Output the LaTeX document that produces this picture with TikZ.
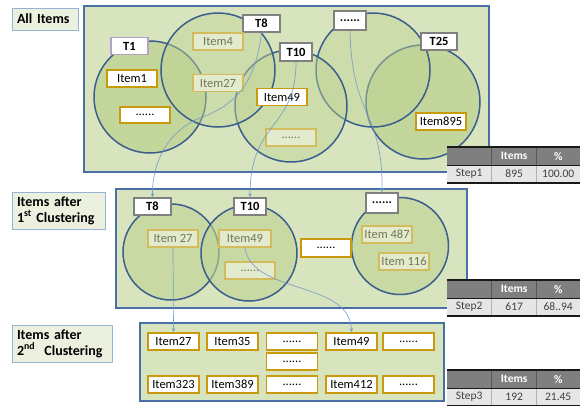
\documentclass[tikz,border=0pt]{standalone}
\usepackage{fontspec}
\setmainfont{Carlito}
\usetikzlibrary{arrows.meta}
\definecolor{boxbg}{HTML}{D7E4BD}
\definecolor{boxline}{HTML}{4A6FA5}
\definecolor{circfill}{HTML}{BFD394}
\definecolor{circline}{HTML}{3B5E8C}
\definecolor{lblbg}{HTML}{EBF1DE}
\definecolor{lblline}{HTML}{95B3D7}
\definecolor{gold}{HTML}{C99A0E}
\definecolor{fadefill}{HTML}{E3EBCF}
\definecolor{fadeline}{HTML}{D2BC5C}
\definecolor{fadetext}{HTML}{737557}
\definecolor{tagline}{HTML}{808080}
\definecolor{conn}{HTML}{6F98C8}
\definecolor{hdr}{HTML}{7F7F7F}
\definecolor{rowbg}{HTML}{E6E6E6}
\definecolor{rowtext}{HTML}{404040}
\definecolor{purp}{HTML}{B3A2C7}
\newcommand\mkstat[5]{%
  \node[hcell, anchor=north west] (#1h0) at (447,#2) {};
  \node[hcell, anchor=north west] (#1h1) at (492,#2) {Items};
  \node[hcell, anchor=north west] (#1h2) at (536,#2) {\%};
  \node[rcell, anchor=north west] (#1r0) at (#1h0.south west) {#3};
  \node[rcell, anchor=north west] (#1r1) at (#1h1.south west) {#4};
  \node[rcell, anchor=north west] (#1r2) at (#1h2.south west) {#5};
  \draw[hsep] (#1h0.north east) -- (#1h0.south east);
  \draw[hsep] (#1h1.north east) -- (#1h1.south east);
  \draw[rsep] (#1r0.north east) -- (#1r0.south east);
  \draw[rsep] (#1r1.north east) -- (#1r1.south east);
  \draw[tline] (#1h0.north west) -- (#1h2.north east);
  \draw[tline] (#1r0.north west) -- (#1r2.north east);
  \draw[tline] (#1r0.south west) -- (#1r2.south east);
}
\begin{document}
\begin{tikzpicture}[x=1pt,y=-1pt,
  bigbox/.style={draw=boxline, fill=boxbg, line width=1.4pt, inner sep=0pt},
  circ/.style={circle, draw=circline, fill=circfill, line width=1.5pt, inner sep=0pt, minimum size=#1},
  lbl/.style={draw=lblline, fill=lblbg, line width=1pt, align=left, inner xsep=5pt, inner ysep=2pt,
     font=\bfseries\fontsize{14}{16}\selectfont},
  tag/.style={draw=tagline, fill=white, line width=1.4pt, inner sep=0pt, minimum width=37pt,
     minimum height=17pt, font=\bfseries\fontsize{12.5}{14}\selectfont},
  item/.style={draw=gold, fill=white, line width=1.6pt, inner sep=0pt, minimum width=50pt,
     minimum height=17pt, font=\fontsize{12.5}{14}\selectfont},
  fitem/.style={draw=fadeline, fill=fadefill, text=fadetext, line width=1.4pt, inner sep=0pt,
     minimum width=50pt, minimum height=17pt, font=\fontsize{12.5}{14}\selectfont},
  conn/.style={draw=conn, line width=0.7pt, draw opacity=0.85, -{Stealth[length=4pt,width=3.5pt]}},
  hcell/.style={fill=hdr, text=white, inner sep=0pt, minimum width=44pt, minimum height=18pt,
     font=\bfseries\fontsize{11.5}{13}\selectfont},
  rcell/.style={fill=rowbg, text=rowtext, inner sep=0pt, minimum width=44pt, minimum height=17pt,
     font=\fontsize{11.5}{13}\selectfont},
  hsep/.style={draw=black!65, line width=0.6pt},
  rsep/.style={draw=black!30, line width=0.6pt},
  tline/.style={draw=black!90, line width=1.4pt},
]
\useasboundingbox (0,0) rectangle (585,405);

% ---------- left labels ----------
\node[lbl, text width=56pt, minimum height=22pt] (l0) at (45,19) {All Items};
\node[lbl, text width=83pt, minimum height=37pt] (l1) at (58.5,210.5) {Items after\\1\textsuperscript{st} Clustering};
\node[lbl, text width=90pt, minimum height=37pt] (l2) at (62,343.5) {Items after\\2\textsuperscript{nd}~ Clustering};

% ---------- box 1 ----------
\node[bigbox, minimum width=405pt, minimum height=166pt] (b1) at (286.5,89) {};
\node[circ=114pt, fill opacity=0.8] (c25) at (423,102) {};
\node[circ=114pt, fill opacity=0.45] (cd) at (373,70) {};
\node[circ=112pt, fill opacity=0.45] (c10) at (291,106) {};
\node[circ=112pt, fill opacity=0.8] (c1) at (150,97) {};
\node[circ=114pt, fill opacity=0.45] (c8) at (218,70) {};

\node[tag, draw=purp] (t1a) at (129.5,46) {T1};
\node[tag] (t8a) at (261.5,23.5) {T8};
\node[tag, minimum width=32pt, minimum height=18pt] (t10a) at (296,52) {T10};
\node[tag, minimum width=32pt, minimum height=19pt] (tda) at (350,20.5) {......};
\node[tag, minimum width=36pt] (t25a) at (439,41.5) {T25};

\node[item] (i1) at (132,78.5) {Item1};
\node[item, minimum height=16pt] (id1) at (145,115) {......};
\node[fitem] (i4) at (218,41.5) {Item4};
\node[fitem] (i27a) at (218,83) {Item27};
\node[item] (i49a) at (282,97) {Item49};
\node[fitem] (id2) at (291,137.5) {......};
\node[item] (i895) at (441,121.5) {Item895};

% ---------- box 2 ----------
\node[bigbox, minimum width=351pt, minimum height=119pt] (b2) at (291.5,248.5) {};
\node[circ=96pt, fill opacity=0.6] (k8) at (171,252) {};
\node[circ=96pt, fill opacity=0.6] (k10) at (249,253) {};
\node[circ=97pt, fill opacity=0.6] (kd) at (400,246) {};

\node[tag] (t8b) at (152.5,206.5) {T8};
\node[tag, minimum width=32pt] (t10b) at (250,206.5) {T10};
\node[tag, minimum width=32pt, minimum height=20pt] (tdb) at (382,203) {......};

\node[fitem] (i27b) at (173,238.5) {Item 27};
\node[fitem, minimum width=52pt] (i49b) at (245,238.5) {Item49};
\node[fitem] (id3) at (250,270.5) {......};
\node[item, minimum height=18pt] (id4) at (326,248) {......};
\node[fitem] (i487) at (387,234.5) {Item 487};
\node[fitem] (i116) at (404,261.5) {Item 116};

% ---------- box 3 ----------
\node[bigbox, minimum width=304pt, minimum height=78pt] (b3) at (292,362) {};
\node[item, minimum width=51pt] (j27) at (173.5,341.5) {Item27};
\node[item, minimum width=51pt] (j35) at (232.5,341.5) {Item35};
\node[item, minimum width=51pt] (jd1) at (292,341.5) {......};
\node[item, minimum width=51pt] (j49) at (351.5,341.5) {Item49};
\node[item, minimum width=51pt] (jd2) at (408.5,341.5) {......};
\node[item, minimum width=51pt] (jd3) at (292,361.5) {......};
\node[item, minimum width=51pt] (j323) at (173.5,384.5) {Item323};
\node[item, minimum width=51pt] (j389) at (232.5,384.5) {Item389};
\node[item, minimum width=51pt] (jd4) at (292,384.5) {......};
\node[item, minimum width=51pt] (j412) at (351.5,384.5) {Item412};
\node[item, minimum width=51pt] (jd5) at (408.5,384.5) {......};

% ---------- connectors ----------
\draw[conn] (t8a.south) .. controls (255,85) and (235,105) .. (200,118)
   .. controls (170,130) and (152,160) .. (t8b.north);
\draw[conn] (t10a.south) .. controls (296,130) and (250,120) .. (t10b.north);
\draw[conn] (tda.south) .. controls (352,120) and (383,110) .. (tdb.north);
\draw[conn] (i27b.south) -- (j27.north);
\draw[conn] (i49b.south) .. controls (252,295) and (350,280) .. (j49.north);

% ---------- tables ----------
\mkstat{s1}{147}{Step1}{895}{100.00}
\mkstat{s2}{280}{Step2}{617}{68..94}
\mkstat{s3}{370}{Step3}{192}{21.45}
\end{tikzpicture}
\end{document}
